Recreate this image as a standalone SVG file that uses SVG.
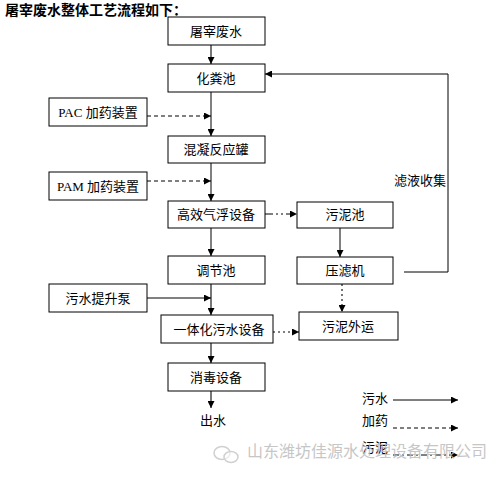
<svg xmlns="http://www.w3.org/2000/svg" width="499" height="480" viewBox="0 0 499 480">
<style>
text{font-family:"Liberation Serif","Noto Sans CJK SC",sans-serif;font-size:13px;fill:#000}
.box{fill:#fff;stroke:#000;stroke-width:1}
.c{text-anchor:middle}
.ln{fill:none;stroke:#000;stroke-width:1}
.gr{fill:none;stroke:#555;stroke-width:1.6}
.dash{stroke-dasharray:4 3}
.dd{stroke-dasharray:8 3 2 3 2 3}
.dot{stroke-dasharray:2 3}
.dashdot{stroke-dasharray:6 3 2 3}
</style>
<defs>
<marker id="ah" markerWidth="7" markerHeight="7" refX="7" refY="3.5" orient="auto" markerUnits="userSpaceOnUse"><path d="M0,0 L7,3.5 L0,7 z" fill="#000"/></marker>
</defs>
<rect width="499" height="480" fill="#fff"/>
<text x="5" y="15" style="font-size:14px;font-weight:bold">屠宰废水整体工艺流程如下：</text>

<g id="connectors">
<line class="gr" x1="211" y1="45" x2="211" y2="64" marker-end="url(#ah)"/>
<line class="ln" x1="211" y1="92" x2="211" y2="136" marker-end="url(#ah)"/>
<line class="ln dash" x1="147" y1="116" x2="211" y2="116" marker-end="url(#ah)"/>
<line class="ln" x1="211" y1="163" x2="211" y2="201" marker-end="url(#ah)"/>
<line class="ln dash" x1="147" y1="181" x2="211" y2="181" marker-end="url(#ah)"/>
<line class="ln dd" x1="265" y1="214" x2="297" y2="214" marker-end="url(#ah)"/>
<line class="ln" x1="211" y1="228" x2="211" y2="256" marker-end="url(#ah)"/>
<line class="ln" x1="340" y1="228" x2="340" y2="257" marker-end="url(#ah)"/>
<line class="gr dot" x1="342" y1="284" x2="342" y2="312" marker-end="url(#ah)"/>
<line class="gr" x1="211" y1="284" x2="211" y2="315" marker-end="url(#ah)"/>
<line class="ln" x1="147" y1="298" x2="211" y2="298" marker-end="url(#ah)"/>
<line class="ln dot" x1="273" y1="332" x2="299" y2="332" marker-end="url(#ah)"/>
<line class="gr" x1="211" y1="343" x2="211" y2="363" marker-end="url(#ah)"/>
<line class="gr" x1="211" y1="391" x2="211" y2="408" marker-end="url(#ah)"/>
<polyline class="ln" points="404,272 448,272 448,74 265,74" marker-end="url(#ah)"/>
<text x="446" y="185" style="text-anchor:end">滤液收集</text>
</g>

<g id="n1"><rect class="box" x="168" y="17" width="97" height="28"/><text class="c" x="216" y="36">屠宰废水</text></g>
<g id="n2"><rect class="box" x="168" y="64" width="97" height="28"/><text class="c" x="216" y="83">化粪池</text></g>
<g id="n3"><rect class="box" x="49" y="98" width="98" height="28"/><text class="c" x="98" y="117">PAC 加药装置</text></g>
<g id="n4"><rect class="box" x="168" y="136" width="97" height="27"/><text class="c" x="216" y="154">混凝反应罐</text></g>
<g id="n5"><rect class="box" x="49" y="172" width="98" height="28"/><text class="c" x="98" y="191">PAM 加药装置</text></g>
<g id="n6"><rect class="box" x="168" y="201" width="97" height="27"/><text class="c" x="216" y="219">高效气浮设备</text></g>
<g id="n7"><rect class="box" x="297" y="202" width="96" height="26"/><text class="c" x="345" y="219">污泥池</text></g>
<g id="n8"><rect class="box" x="168" y="256" width="97" height="28"/><text class="c" x="216" y="275">调节池</text></g>
<g id="n9"><rect class="box" x="297" y="257" width="96" height="27"/><text class="c" x="345" y="275">压滤机</text></g>
<g id="n10"><rect class="box" x="49" y="284" width="98" height="28"/><text class="c" x="98" y="303">污水提升泵</text></g>
<g id="n11"><rect class="box" x="161" y="315" width="112" height="28"/><text class="c" x="219" y="334">一体化污水设备</text></g>
<g id="n12"><rect class="box" x="299" y="312" width="99" height="28"/><text class="c" x="348" y="331">污泥外运</text></g>
<g id="n13"><rect class="box" x="168" y="363" width="97" height="28"/><text class="c" x="216" y="382">消毒设备</text></g>
<g id="n14"><text class="c" x="213" y="425">出水</text></g>

<g id="legend">
<text x="362" y="403">污水</text>
<line class="ln" x1="393" y1="400" x2="458" y2="400" marker-end="url(#ah)"/>
<text x="362" y="425">加药</text>
<line class="ln dash" x1="393" y1="428" x2="458" y2="428" marker-end="url(#ah)"/>
<text x="362" y="452">污泥</text>
<line class="ln dashdot" x1="393" y1="455" x2="458" y2="455" marker-end="url(#ah)"/>
</g>

<g id="watermark" opacity="0.85">
<ellipse cx="222" cy="453" rx="8" ry="6.5" fill="none" stroke="#c8c8c8" stroke-width="1.5"/>
<ellipse cx="231" cy="457" rx="7" ry="5.5" fill="#fff" fill-opacity="0.6" stroke="#c8c8c8" stroke-width="1.5"/>
<text x="247" y="457" style="font-size:16px;fill:#bdbdbd">山东潍坊佳源水处理设备有限公司</text>
</g>
</svg>
